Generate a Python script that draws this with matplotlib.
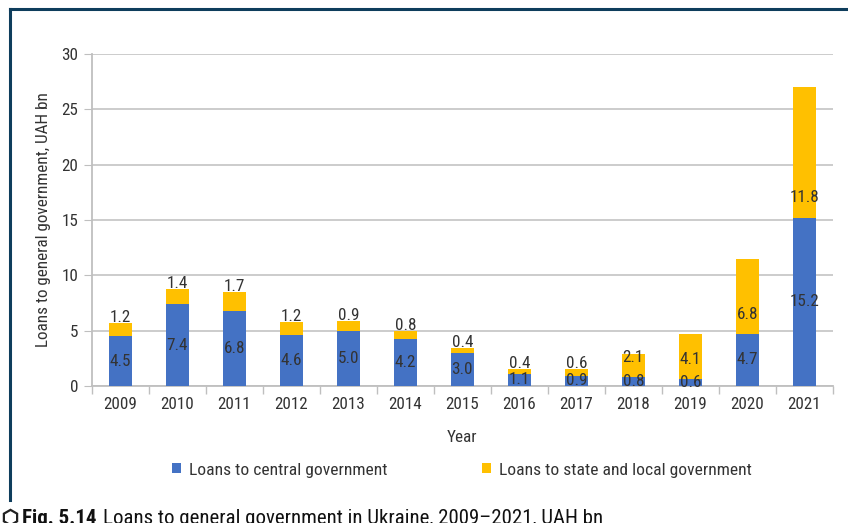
import numpy as np
import matplotlib.pyplot as plt
from matplotlib import font_manager
from matplotlib.lines import Line2D

# condensed sans: first one that is installed
names = set(f.name for f in font_manager.fontManager.ttflist)
wanted = ['Roboto Condensed', 'Barlow Semi Condensed', 'Liberation Sans Narrow',
          'Arial Narrow', 'Archivo Narrow', 'PT Sans Narrow', 'Roboto']
fam = [n for n in wanted if n in names][:1] + ['DejaVu Sans']
plt.rcParams['font.family'] = fam

# ------------------------------------------------------
# data
years = ['2009', '2010', '2011', '2012', '2013', '2014', '2015',
         '2016', '2017', '2018', '2019', '2020', '2021']
central = [4.5, 7.4, 6.8, 4.6, 5.0, 4.2, 3.0, 1.1, 0.9, 0.8, 0.6, 4.7, 15.2]
local = [1.2, 1.4, 1.7, 1.2, 0.9, 0.8, 0.4, 0.4, 0.6, 2.1, 4.1, 6.8, 11.8]

c_blue = '#4472C4'
c_yel = '#FFC000'
c_text = '#333333'
c_frame = '#0E3D5C'

fig = plt.figure(figsize=(8.48, 5.23), dpi=100)
ax = fig.add_axes([0.1085, 0.262, 0.8735, 0.635])

x = np.arange(len(years))
w = 0.41
ax.bar(x, central, w, color=c_blue, label='Loans to central government', zorder=3)
ax.bar(x, local, w, bottom=central, color=c_yel,
       label='Loans to state and local government', zorder=3)

# value labels: blue in the middle of the segment,
# yellow just above small segments, low inside the big ones
for i in range(len(years)):
    ax.text(x[i], central[i] / 2, f'{central[i]:.1f}', ha='center', va='center',
            fontsize=12.3, color=c_text, zorder=4)
    top = central[i] + local[i]
    if local[i] < 2:
        ly = top + 0.5
    else:
        ly = central[i] + 1.8
    ax.text(x[i], ly, f'{local[i]:.1f}', ha='center', va='center',
            fontsize=12.3, color=c_text, zorder=4)

ax.set_xlim(-0.5, len(years) - 0.5)
ax.set_ylim(0, 30)
ax.set_yticks(range(0, 31, 5))
ax.set_xticks(x)
ax.set_xticklabels(years)
ax.set_xticks(np.arange(-0.5, len(years), 1), minor=True)
ax.tick_params(axis='x', which='major', length=0, pad=8, labelsize=12.3, labelcolor=c_text)
ax.tick_params(axis='x', which='minor', length=6, color='#BFBFBF', width=1)
ax.tick_params(axis='y', length=6, color='#BFBFBF', labelsize=12.3, labelcolor=c_text, pad=4)

ax.grid(axis='y', color='#C8C8C8', linewidth=1.3, zorder=0)
for s in ['top', 'right']:
    ax.spines[s].set_visible(False)
ax.spines['left'].set_color('#BFBFBF')
ax.spines['bottom'].set_color('#BFBFBF')
ax.spines['left'].set_linewidth(1.3)
ax.spines['bottom'].set_linewidth(1.3)

ax.set_ylabel('Loans to general government, UAH bn', fontsize=12.3, color=c_text, labelpad=7)
ax.set_xlabel('Year', fontsize=12.3, color=c_text, labelpad=13)

fig.legend(*ax.get_legend_handles_labels(), loc='center', bbox_to_anchor=(462 / 848, 1 - 470 / 523),
           ncol=2, frameon=False, fontsize=12.6, handlelength=0.5, handleheight=0.5,
           columnspacing=5.4, handletextpad=0.45, labelcolor=c_text)

# frame lines
fig.add_artist(Line2D([10 / 848, 10 / 848], [1 - 500 / 523, 1 - 9 / 523],
                      transform=fig.transFigure, color=c_frame, linewidth=2.2))
fig.add_artist(Line2D([10 / 848, 1.0], [1 - 9 / 523, 1 - 9 / 523],
                      transform=fig.transFigure, color=c_frame, linewidth=2.2))

# caption
fig.add_artist(Line2D([10 / 848], [1 - 517 / 523], marker='h', markersize=11,
                      markerfacecolor='white', markeredgecolor='#222222',
                      markeredgewidth=1.6, transform=fig.transFigure))
fig.text(22 / 848, 1 - 509 / 523, 'Fig. 5.14', fontsize=15, fontweight='bold',
         color='#111111', va='top')
fig.text(103 / 848, 1 - 509 / 523,
         'Loans to general government in Ukraine, 2009–2021, UAH bn',
         fontsize=15, color='#111111', va='top')

plt.savefig('out.png', dpi=100)
